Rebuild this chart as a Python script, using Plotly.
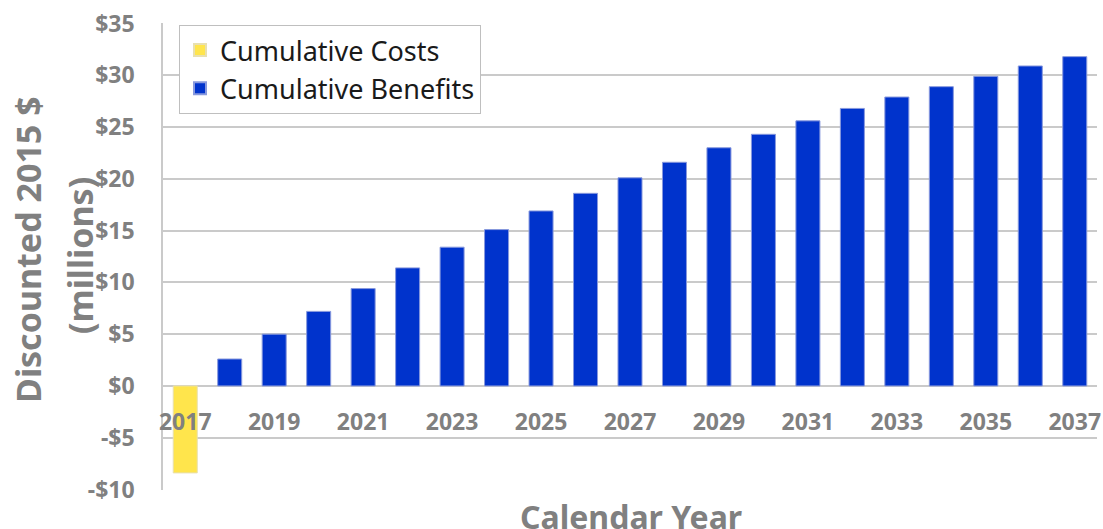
import plotly.graph_objects as go

years = list(range(2017, 2038))
cost_years = [2017]
cost_values = [-8.4]
benefit_years = list(range(2018, 2038))
benefit_values = [2.6, 5.0, 7.2, 9.4, 11.4, 13.4, 15.1, 16.9, 18.6, 20.1,
                  21.6, 23.0, 24.3, 25.6, 26.8, 27.9, 28.9, 29.9, 30.9, 31.8]
y_tickvals = [-10, -5, 0, 5, 10, 15, 20, 25, 30, 35]
y_ticktext = ["-$10", "-$5", "$0", "$5", "$10", "$15", "$20", "$25", "$30", "$35"]
x_tickvals = list(range(2017, 2038, 2))
x_ticktext = [str(y) for y in x_tickvals]
y_title_lines = ["Discounted 2015 $", "(millions)"]
x_title = "Calendar Year"

GREY = "#808080"
FONT = "Noto Sans"

W, H = 1103, 529
L, R, T, B = 163, 6, 23, 39
PW, PH = W - L - R, H - T - B
Y_RANGE = [-10.05, 35.05]


def px_x(p):
    return (p - L) / PW


def px_y(p):
    return (H - B - p) / PH


fig = go.Figure()
fig.add_trace(go.Bar(x=cost_years, y=cost_values, name="Cumulative Costs",
                     marker=dict(color="#FFE54C", line=dict(color="#E8E0B0", width=1)),
                     width=0.54))
fig.add_trace(go.Bar(x=benefit_years, y=benefit_values, name="Cumulative Benefits",
                     marker=dict(color="#0033CC", line=dict(color="#8899DD", width=1)),
                     width=0.54))

fig.update_layout(
    width=W, height=H,
    margin=dict(l=L, r=R, t=T, b=B, autoexpand=False),
    paper_bgcolor="white", plot_bgcolor="white",
    barmode="overlay",
    font=dict(family=FONT, color=GREY),
    legend=dict(x=px_x(179), y=px_y(25), xanchor="left", yanchor="top",
                bgcolor="white", bordercolor="#BFBFBF", borderwidth=1,
                font=dict(family=FONT, size=27, color="#1A1A1A"),
                itemsizing="constant", tracegroupgap=0),
    showlegend=True,
)
fig.update_yaxes(range=Y_RANGE, tickvals=y_tickvals, ticktext=y_ticktext,
                 tickfont=dict(family=FONT, size=23, color=GREY, weight="bold"),
                 showgrid=True, gridcolor="#CACACA", gridwidth=1.5,
                 zeroline=False, showline=True, linecolor="#CACACA", linewidth=1.5,
                 ticks="", ticklabelstandoff=22, automargin=False,
                 ticklabeloverflow="allow")
fig.update_xaxes(range=[2016.5, 2037.5], tickvals=x_tickvals, ticktext=x_ticktext,
                 tickfont=dict(family=FONT, size=23, color=GREY, weight="bold"),
                 showgrid=False, zeroline=False, showline=False,
                 anchor="free", position=(0 - Y_RANGE[0]) / (Y_RANGE[1] - Y_RANGE[0]),
                 ticks="", ticklabelstandoff=20,
                 automargin=False, ticklabeloverflow="allow")

fig.add_annotation(text=y_title_lines[0], xref="paper", yref="paper",
                   x=px_x(28), y=px_y(250), xanchor="center", yanchor="middle",
                   textangle=-90, showarrow=False,
                   font=dict(family=FONT, size=34, color=GREY, weight="bold"))
fig.add_annotation(text=y_title_lines[1], xref="paper", yref="paper",
                   x=px_x(80), y=px_y(256), xanchor="center", yanchor="middle",
                   textangle=-90, showarrow=False,
                   font=dict(family=FONT, size=34, color=GREY, weight="bold"))
fig.add_annotation(text=x_title, xref="paper", yref="paper",
                   x=px_x(631), y=px_y(493), xanchor="center", yanchor="top",
                   showarrow=False,
                   font=dict(family=FONT, size=32, color=GREY, weight="bold"))

# remove the default 8px page margin so the figure fills the window exactly
fig.write_html("out.html",
               config={"displayModeBar": False},
               post_script="document.body.style.margin='0';document.body.style.overflow='hidden';")
